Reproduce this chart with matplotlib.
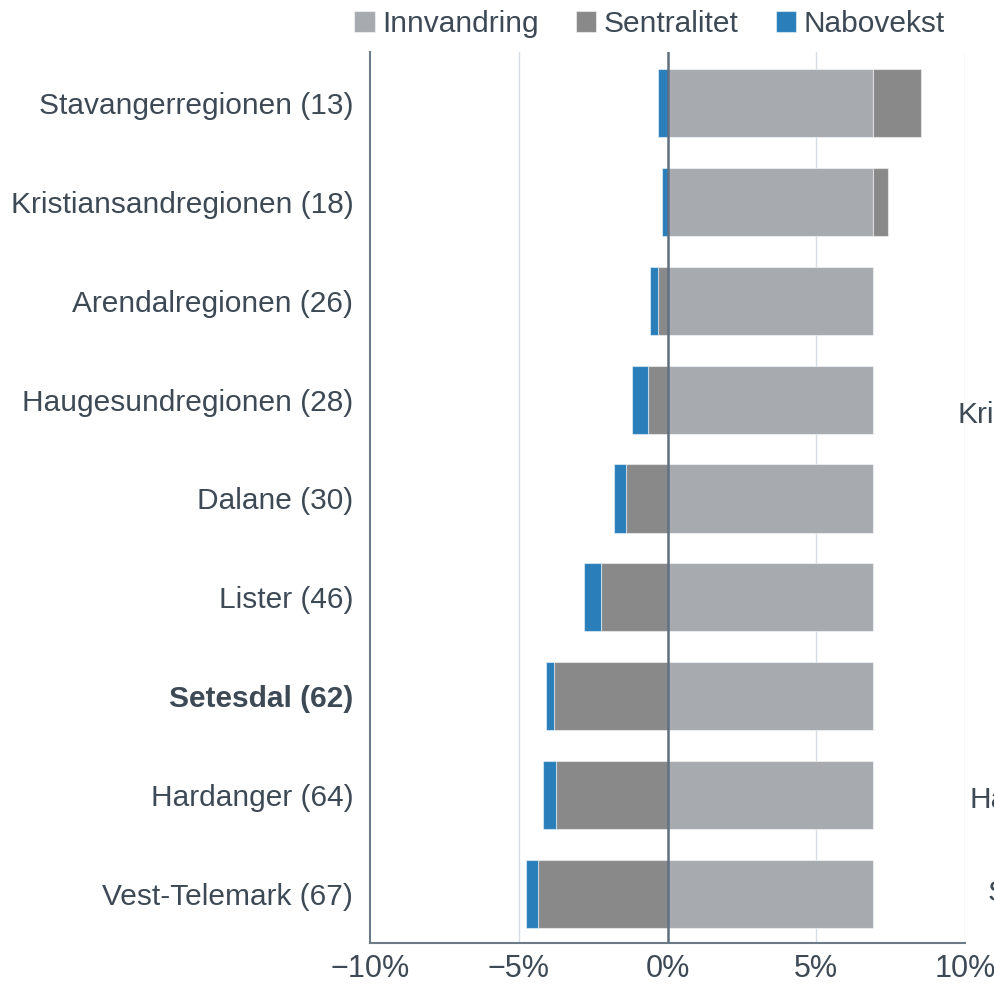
import numpy as np
import matplotlib.pyplot as plt

regioner = ['Stavangerregionen (13)', 'Kristiansandregionen (18)', 'Arendalregionen (26)',
            'Haugesundregionen (28)', 'Dalane (30)', 'Lister (46)', 'Setesdal (62)',
            'Hardanger (64)', 'Vest-Telemark (67)']
innvandring = [6.92, 6.92, 6.92, 6.92, 6.92, 6.92, 6.92, 6.92, 6.92]
sentralitet = [1.6, 0.5, -0.33, -0.64, -1.41, -2.22, -3.83, -3.76, -4.34]
nabovekst = [-0.33, -0.17, -0.27, -0.57, -0.4, -0.57, -0.24, -0.44, -0.4]
serier = ['Innvandring', 'Sentralitet', 'Nabovekst']
farger = ['#a7abaf', '#898989', '#2a7fbb']
xticks = [-10, -5, 0, 5, 10]
xticklabels = ['\u221210%', '\u22125%', '0%', '5%', '10%']
# avskaarne etiketter ved hoeyre kant
rest_tekst = ['Kris', 'Ha', 'S']

tekstfarge = '#3d4a55'
aksefarge = '#6b7b88'
plt.rcParams['font.family'] = ['Liberation Sans', 'DejaVu Sans']

fig = plt.figure(figsize=(9.94, 9.84), dpi=100)
ax = fig.add_axes([370/994, 1-943/984, (965-370)/994, (943-52)/984])

y = np.arange(len(regioner))
pos = np.zeros(len(regioner))
neg = np.zeros(len(regioner))
for navn, verdier, farge in zip(serier, [innvandring, sentralitet, nabovekst], farger):
    v = np.array(verdier)
    venstre = np.where(v >= 0, pos, neg)
    ax.barh(y, v, left=venstre, height=0.69, color=farge, label=navn,
            edgecolor=(1, 1, 1, 0.5), linewidth=0.8, zorder=3)
    pos = pos + np.where(v >= 0, v, 0)
    neg = neg + np.where(v < 0, v, 0)

ax.set_xlim(-10, 10)
ax.set_ylim(len(regioner) - 0.5, -0.52)
ax.set_xticks(xticks)
ax.set_xticklabels(xticklabels, fontsize=22, color=tekstfarge)
ax.set_yticks(y)
ax.set_yticklabels(regioner, fontsize=21.5, color=tekstfarge)
ax.get_yticklabels()[6].set_fontweight('bold')
ax.tick_params(axis='both', length=0)
ax.tick_params(axis='y', pad=12)
ax.tick_params(axis='x', pad=8)

for xv in [-5, 5, 10]:
    ax.axvline(xv, color='#d5dde3', linewidth=1, zorder=1)
ax.axvline(0, color='#5f7080', linewidth=1.8, zorder=4)

for s in ['top', 'right']:
    ax.spines[s].set_visible(False)
for s in ['left', 'bottom']:
    ax.spines[s].set_color(aksefarge)
    ax.spines[s].set_linewidth(1.5)

fig.legend(loc='upper right', bbox_to_anchor=(972/994, 1.017), ncol=3, frameon=False,
           fontsize=21.5, handlelength=0.68, handleheight=0.68, handletextpad=0.25,
           columnspacing=1.25, labelcolor=tekstfarge)

for tekst, (px, py) in zip(rest_tekst, [(957, 415), (970, 800), (988, 893)]):
    fig.text(px/994, 1-py/984, tekst, fontsize=21.5, color=tekstfarge, va='center', ha='left')

fig.savefig('out.png', dpi=100)
